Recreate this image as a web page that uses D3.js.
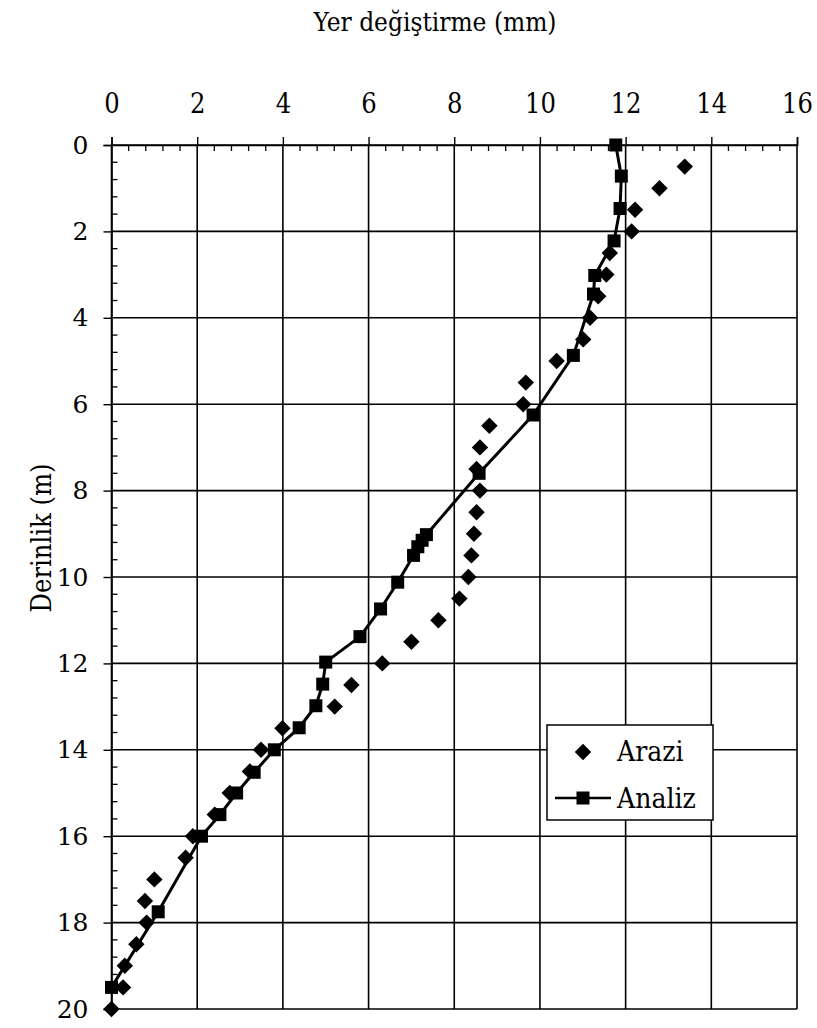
<!DOCTYPE html>
<html>
<head>
<meta charset="utf-8">
<script src="https://cdn.jsdelivr.net/npm/d3@7"></script>
<style>
  html, body { margin: 0; padding: 0; background: #fff; }
  svg { display: block; }
</style>
</head>
<body>
<svg id="chart" width="817" height="1028"></svg>
<script>
// Field measurements (Arazi): displacement (mm) by depth (m)
const araziDepth = [0.5, 1, 1.5, 2, 2.5, 3, 3.5, 4, 4.5, 5, 5.5, 6, 6.5, 7, 7.5, 8, 8.5, 9, 9.5, 10,
                    10.5, 11, 11.5, 12, 12.5, 13, 13.5, 14, 14.5, 15, 15.5, 16, 16.5, 17, 17.5, 18, 18.5, 19, 19.5, 20];
const araziDisp  = [13.38, 12.79, 12.22, 12.14, 11.63, 11.55, 11.36, 11.17, 11.01, 10.39, 9.67, 9.61, 8.82, 8.6, 8.52, 8.6, 8.52, 8.46, 8.4, 8.33,
                    8.12, 7.63, 7.0, 6.32, 5.6, 5.21, 3.99, 3.49, 3.23, 2.76, 2.41, 1.9, 1.73, 1.0, 0.78, 0.82, 0.58, 0.31, 0.27, 0.0];

// Analysis results (Analiz)
const analizDepth = [0, 0.72, 1.47, 2.22, 3.02, 3.45, 4.87, 6.25, 7.6, 9.02, 9.15, 9.3, 9.5, 10.12, 10.74, 11.38,
                     11.97, 12.48, 12.98, 13.49, 14.0, 14.52, 15.0, 15.5, 16.0, 17.75, 19.5];
const analizDisp  = [11.77, 11.9, 11.87, 11.73, 11.28, 11.25, 10.78, 9.84, 8.58, 7.35, 7.25, 7.15, 7.05, 6.68, 6.28, 5.8,
                     5.0, 4.93, 4.77, 4.38, 3.8, 3.33, 2.92, 2.53, 2.1, 1.09, 0.0];

const xTicks = [0, 2, 4, 6, 8, 10, 12, 14, 16];
const yTicks = [0, 2, 4, 6, 8, 10, 12, 14, 16, 18, 20];
const legendLabels = ["Arazi", "Analiz"];

const SERIF_C = "'DejaVu Serif Condensed', 'DejaVu Serif'";
const SERIF = "'DejaVu Serif'";
const svg = d3.select("#chart");

const x = d3.scaleLinear().domain([0, 16]).range([111.5, 797]);
const y = d3.scaleLinear().domain([0, 20]).range([145, 1009]);

// grid
const grid = svg.append("g").attr("stroke", "#000").attr("stroke-width", 1.6);
grid.selectAll("line.v").data(xTicks).join("line")
  .attr("x1", d => x(d)).attr("x2", d => x(d))
  .attr("y1", y(0)).attr("y2", y(20));
grid.selectAll("line.h").data(yTicks).join("line")
  .attr("y1", d => y(d)).attr("y2", d => y(d))
  .attr("x1", x(0)).attr("x2", x(16));

// minor ticks (inside) every 0.4
const minorX = d3.range(0, 16.001, 0.4).filter(v => Math.abs(v / 2 - Math.round(v / 2)) > 1e-6);
const minorY = d3.range(0, 20.001, 0.4).filter(v => Math.abs(v / 2 - Math.round(v / 2)) > 1e-6);
const minor = svg.append("g").attr("stroke", "#000").attr("stroke-width", 1.3);
minor.selectAll("line.mx").data(minorX).join("line")
  .attr("x1", d => x(d)).attr("x2", d => x(d))
  .attr("y1", y(0)).attr("y2", y(0) + 6);
minor.selectAll("line.my").data(minorY).join("line")
  .attr("y1", d => y(d)).attr("y2", d => y(d))
  .attr("x1", x(0)).attr("x2", x(0) + 6);

// major axes (ticks outside)
const xAxis = svg.append("g").attr("transform", `translate(0,${y(0)})`)
  .call(d3.axisTop(x).tickValues(xTicks).tickSize(8).tickPadding(24).tickFormat(d3.format("d")));
const yAxis = svg.append("g").attr("transform", `translate(${x(0)},0)`)
  .call(d3.axisLeft(y).tickValues(yTicks).tickSize(8).tickPadding(15).tickFormat(d3.format("d")));
xAxis.attr("font-family", SERIF_C).attr("font-size", 27);
yAxis.attr("font-family", SERIF).attr("font-size", 25);
[xAxis, yAxis].forEach(a => {
  a.select(".domain").attr("stroke", "#000").attr("stroke-width", 1.6);
  a.selectAll(".tick line").attr("stroke", "#000").attr("stroke-width", 1.4);
  a.selectAll(".tick text").attr("fill", "#000");
});

// axis titles
svg.append("text").attr("x", 435).attr("y", 31).attr("text-anchor", "middle")
  .attr("font-family", SERIF_C).attr("font-size", 26).text("Yer değiştirme (mm)");
svg.append("text").attr("transform", "translate(51,538) rotate(-90)").attr("text-anchor", "middle")
  .attr("font-family", SERIF_C).attr("font-size", 27).text("Derinlik (m)");

// analysis line + squares
const analiz = analizDepth.map((d, i) => ({ d, v: analizDisp[i] }));
const arazi = araziDepth.map((d, i) => ({ d, v: araziDisp[i] }));

const line = d3.line().x(p => x(p.v)).y(p => y(p.d));
svg.append("path").datum(analiz).attr("d", line)
  .attr("fill", "none").attr("stroke", "#000").attr("stroke-width", 3).attr("stroke-linejoin", "round");

const sq = 13;
svg.append("g").selectAll("rect").data(analiz).join("rect")
  .attr("x", p => x(p.v) - sq / 2).attr("y", p => y(p.d) - sq / 2)
  .attr("width", sq).attr("height", sq).attr("fill", "#000");

// field diamonds
const diamond = d3.symbol().type(d3.symbolSquare).size(135);
svg.append("g").selectAll("path").data(arazi).join("path")
  .attr("d", diamond)
  .attr("transform", p => `translate(${x(p.v)},${y(p.d)}) rotate(45)`)
  .attr("fill", "#000");

// legend
const lg = svg.append("g");
lg.append("rect").attr("x", 547).attr("y", 725).attr("width", 166).attr("height", 95)
  .attr("fill", "#fff").attr("stroke", "#000").attr("stroke-width", 1.5);
lg.append("path").attr("d", diamond)
  .attr("transform", "translate(583,752) rotate(45)").attr("fill", "#000");
lg.append("line").attr("x1", 555).attr("x2", 611).attr("y1", 798).attr("y2", 798)
  .attr("stroke", "#000").attr("stroke-width", 2.5);
lg.append("rect").attr("x", 583 - sq / 2).attr("y", 798 - sq / 2).attr("width", sq).attr("height", sq).attr("fill", "#000");
lg.selectAll("text").data(legendLabels).join("text")
  .attr("x", 617).attr("y", (d, i) => 761 + i * 47)
  .attr("font-family", SERIF_C).attr("font-size", 28).text(d => d);
</script>
</body>
</html>
